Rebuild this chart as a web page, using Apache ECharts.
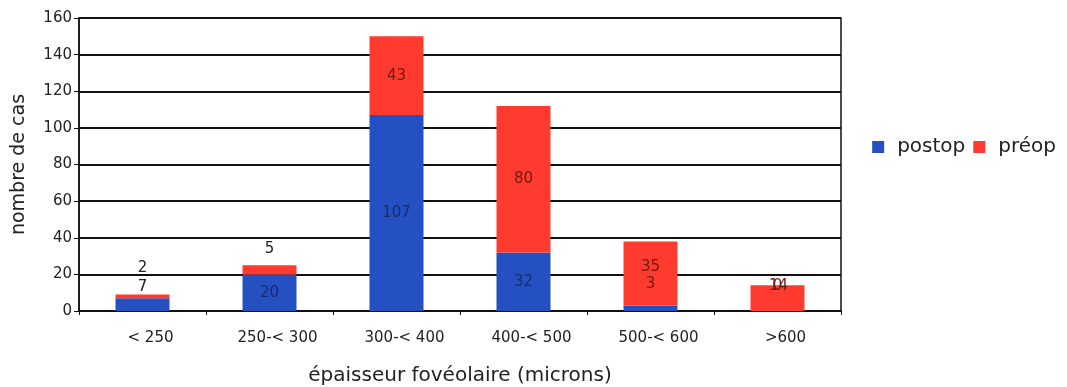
<!DOCTYPE html>
<html><head><meta charset="utf-8">
<script src="https://cdn.jsdelivr.net/npm/echarts@6/dist/echarts.min.js"></script>
<style>html,body{margin:0;padding:0;background:#fff}#c{width:1067px;height:387px}</style>
</head><body><div id="c"></div>
<script>
const categories = ['< 250', '250-< 300', '300-< 400', '400-< 500', '500-< 600', '>600'];
const postop = [7, 20, 107, 32, 3, 0];
const preop = [2, 5, 43, 80, 35, 14];
const yTicks = [0, 20, 40, 60, 80, 100, 120, 140, 160];

const FONT = '"DejaVu Sans", "Noto Sans", sans-serif';
const blue = '#2450c2', red = '#ff3b30';

// label placement per item (small segments are labelled outside, as in the reference)
const postopLabel = [
  {position: 'top', distance: 4, color: '#222'},
  null, null, null,
  {position: 'top', distance: 14, color: '#6e1a12'},
  {position: 'top', distance: 17, color: '#6e1a12'}
];
const preopLabel = [
  {position: 'top', distance: 19, color: '#222'},
  {position: 'top', distance: 9, color: '#222'},
  null,
  null,
  {position: 'inside', offset: [0, -6]},
  {position: 'insideTop', distance: 1, offset: [1, -8]}
];

function build(vals, labels) {
  return vals.map((v, i) => labels[i] ? {value: v, label: labels[i]} : v);
}

const chart = echarts.init(document.getElementById('c'), null, {renderer: 'canvas'});
chart.setOption({
  animation: false,
  backgroundColor: '#fff',
  grid: {left: 79, right: 226, top: 18, bottom: 76, show: true, borderColor: '#111', borderWidth: 1.5,
         backgroundColor: 'transparent', containLabel: false, outerBoundsMode: 'none'},
  legend: {
    data: ['postop', 'préop'], right: 6, top: 132, itemWidth: 12, itemHeight: 12, itemGap: 8,
    icon: 'rect', textStyle: {fontFamily: FONT, fontSize: 20, color: '#222', padding: [0, 0, 0, 8]}
  },
  xAxis: {
    type: 'category', data: categories,
    name: 'épaisseur fovéolaire (microns)', nameLocation: 'middle', nameGap: 55,
    nameTextStyle: {fontFamily: FONT, fontSize: 20, color: '#222'},
    axisLine: {lineStyle: {color: '#111', width: 1.5}},
    axisTick: {show: true, inside: false, length: 4, lineStyle: {color: '#111'}},
    axisLabel: {fontFamily: FONT, fontSize: 15, color: '#222', margin: 20, padding: [0, 0, 0, 16]}
  },
  yAxis: {
    type: 'value', min: 0, max: 160, interval: 20,
    name: 'nombre de cas', nameLocation: 'middle', nameGap: 50, nameRotate: 90,
    nameTextStyle: {fontFamily: FONT, fontSize: 19, color: '#222'},
    axisLine: {show: true, lineStyle: {color: '#111', width: 1.5}},
    axisTick: {show: true, length: 5, lineStyle: {color: '#111'}},
    axisLabel: {fontFamily: FONT, fontSize: 15, color: '#222', margin: 7,
      formatter: v => yTicks.includes(v) ? String(v) : ''},
    splitLine: {show: true, lineStyle: {color: '#111', width: 1.8}}
  },
  series: [
    {name: 'postop', type: 'bar', stack: 'a', barWidth: 54, itemStyle: {color: blue},
     label: {show: true, position: 'inside', fontFamily: FONT, fontSize: 15, color: '#1c2a6e'},
     data: build(postop, postopLabel)},
    {name: 'préop', type: 'bar', stack: 'a', barWidth: 54, itemStyle: {color: red},
     label: {show: true, position: 'inside', fontFamily: FONT, fontSize: 15, color: '#6e1a12'},
     data: build(preop, preopLabel)}
  ]
});
</script></body></html>
